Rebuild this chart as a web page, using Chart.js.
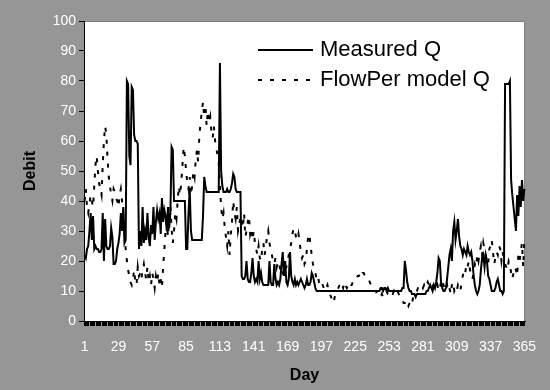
<!DOCTYPE html>
<html>
<head>
<meta charset="utf-8">
<script src="https://cdn.jsdelivr.net/npm/chart.js@4/dist/chart.umd.min.js"></script>
<style>
  html, body { margin: 0; padding: 0; background: #969696; }
  #wrap { width: 550px; height: 390px; }
</style>
</head>
<body>
<div id="wrap"><canvas id="c" width="550" height="390"></canvas></div>
<script>
const seriesNames = ["Measured Q", "FlowPer model Q"];
const days = Array.from({length: 365}, (_, i) => String(i + 1));
const yTicks = [0, 10, 20, 30, 40, 50, 60, 70, 80, 90, 100];

const measuredQ = [
  22, 21, 24, 25, 30, 36, 27, 35, 24, 25,
  24, 24, 23, 23, 24, 36, 20, 34, 25, 24,
  24, 25, 31, 28, 19, 19, 20, 24, 26, 29,
  36, 30, 38, 26, 27, 80, 79, 55, 52, 78,
  77, 62, 60, 60, 59, 24, 30, 25, 38, 26,
  30, 27, 36, 28, 25, 32, 29, 38, 27, 33,
  37, 34, 36, 29, 41, 33, 37, 35, 30, 38,
  31, 36, 58, 57, 40, 40, 40, 40, 40, 40,
  40, 40, 40, 40, 24, 24, 36, 44, 30, 27,
  27, 27, 27, 27, 27, 27, 27, 27, 35, 48,
  45, 43, 43, 43, 43, 43, 43, 43, 43, 43,
  43, 43, 86, 50, 45, 43, 43, 43, 44, 43,
  43, 44, 46, 49, 48, 44, 43, 43, 43, 43,
  15, 14, 14, 15, 20, 14, 13, 13, 16, 21,
  15, 13, 14, 13, 20, 14, 16, 13, 12, 12,
  12, 12, 12, 20, 13, 12, 12, 19, 14, 12,
  13, 12, 14, 19, 23, 15, 20, 13, 12, 14,
  23, 15, 13, 12, 14, 12, 13, 12, 13, 14,
  13, 12, 11, 12, 14, 12, 12, 13, 16, 15,
  13, 11, 10, 10, 10, 10, 10, 10, 10, 10,
  10, 10, 10, 10, 10, 10, 10, 10, 10, 10,
  10, 10, 10, 10, 10, 10, 10, 10, 10, 10,
  10, 10, 10, 10, 10, 10, 10, 10, 10, 10,
  10, 10, 10, 10, 10, 10, 10, 10, 10, 10,
  10, 10, 10, 10, 10, 11, 11, 10, 11, 11,
  10, 11, 10, 10, 10, 10, 10, 10, 10, 10,
  10, 10, 10, 11, 11, 20, 17, 13, 11, 10,
  10, 9, 9, 9, 8, 9, 9, 9, 9, 9,
  9, 9, 9, 10, 10, 11, 12, 11, 10, 12,
  11, 13, 16, 21, 20, 13, 11, 10, 10, 11,
  14, 18, 22, 24, 20, 30, 33, 27, 30, 34,
  28, 25, 24, 22, 24, 23, 22, 25, 23, 22,
  23, 20, 15, 12, 10, 9, 10, 12, 17, 21,
  22, 18, 22, 20, 15, 14, 12, 10, 10, 10,
  11, 13, 14, 12, 10, 10, 9, 10, 79, 79,
  79, 79, 80, 47, 42, 38, 34, 30, 42, 35,
  45, 38, 47, 40, 44
];

const flowPerQ = [
  40, 44, 38, 36, 39, 42, 40, 38, 45, 52,
  55, 50, 46, 44, 42, 52, 60, 65, 62, 54,
  48, 45, 42, 40, 44, 43, 41, 40, 38, 42,
  44, 40, 36, 30, 24, 20, 17, 15, 13, 12,
  14, 17, 13, 12, 18, 15, 16, 14, 17, 19,
  16, 14, 18, 13, 15, 12, 16, 14, 11, 15,
  13, 16, 12, 14, 11, 18, 24, 30, 33, 28,
  34, 38, 31, 26, 30, 36, 34, 40, 45, 42,
  46, 52, 58, 55, 50, 46, 44, 48, 42, 45,
  50, 48, 54, 57, 53, 62, 66, 70, 73, 68,
  72, 65, 70, 66, 68, 63, 61, 65, 60, 58,
  55, 53, 45, 38, 34, 36, 31, 28, 25, 30,
  22, 29, 33, 40, 36, 34, 38, 30, 32, 35,
  34, 31, 36, 28, 30, 33, 35, 29, 31, 27,
  30, 26, 24, 22, 25, 21, 20, 24, 26, 22,
  25, 28, 30, 26, 24, 22, 20, 19, 21, 18,
  20, 19, 17, 18, 16, 15, 17, 18, 20, 22,
  24, 26, 29, 31, 30, 28, 27, 29, 26, 23,
  21, 22, 19, 20, 24, 28, 29, 25, 22, 19,
  17, 16, 14, 15, 13, 12, 13, 12, 11, 12,
  11, 12, 10, 9, 8, 7, 6, 8, 9, 10,
  11, 12, 13, 12, 11, 13, 12, 11, 12, 13,
  12, 12, 13, 13, 14, 14, 15, 15, 16, 15,
  16, 16, 15, 15, 14, 14, 13, 12, 12, 11,
  10, 10, 9, 9, 8, 8, 9, 8, 9, 9,
  10, 9, 9, 10, 9, 9, 10, 9, 10, 10,
  9, 8, 8, 7, 6, 6, 7, 6, 5, 6,
  7, 6, 8, 9, 10, 10, 11, 11, 12, 12,
  11, 12, 11, 12, 13, 12, 13, 12, 12, 11,
  12, 11, 12, 10, 11, 13, 14, 12, 11, 10,
  12, 10, 11, 9, 12, 13, 10, 11, 10, 12,
  11, 10, 13, 15, 17, 16, 19, 18, 20, 17,
  15, 14, 16, 19, 18, 22, 20, 23, 25, 22,
  26, 24, 22, 20, 19, 24, 25, 27, 23, 19,
  21, 23, 22, 25, 24, 20, 23, 21, 19, 18,
  17, 20, 19, 16, 14, 16, 18, 17, 15, 22,
  20, 23, 26, 18, 27
];

const FONT = "'Liberation Sans', Arial, sans-serif";

const plotBg = {
  id: 'plotBg',
  beforeDraw(chart) {
    const {ctx, chartArea: a} = chart;
    ctx.save();
    ctx.fillStyle = '#ffffff';
    ctx.fillRect(a.left, a.top, a.right - a.left, a.bottom - a.top);
    ctx.strokeStyle = '#808080';
    ctx.lineWidth = 1;
    ctx.beginPath();
    ctx.moveTo(a.left, a.top + 0.5);
    ctx.lineTo(a.right - 0.5, a.top + 0.5);
    ctx.lineTo(a.right - 0.5, a.bottom);
    ctx.stroke();
    ctx.restore();
  }
};

const inLegend = {
  id: 'inLegend',
  afterDraw(chart) {
    const {ctx, chartArea: a} = chart;
    ctx.save();
    chart.data.datasets.forEach((ds, i) => {
      const y = a.top + 29 + i * 30;
      const x0 = a.left + 174;
      ctx.strokeStyle = '#000';
      ctx.lineWidth = 2;
      ctx.setLineDash(ds.borderDash || []);
      ctx.beginPath();
      ctx.moveTo(x0, y);
      ctx.lineTo(x0 + 55, y);
      ctx.stroke();
      ctx.setLineDash([]);
      ctx.fillStyle = '#000';
      ctx.font = '22px ' + FONT;
      ctx.textBaseline = 'middle';
      ctx.textAlign = 'left';
      ctx.fillText(ds.label, x0 + 62, y);
    });
    ctx.restore();
  }
};

new Chart(document.getElementById('c'), {
  type: 'line',
  data: {
    labels: days,
    datasets: [
      {
        label: seriesNames[0],
        data: measuredQ,
        borderColor: '#000',
        borderWidth: 2,
        pointRadius: 0,
        tension: 0,
        fill: false
      },
      {
        label: seriesNames[1],
        data: flowPerQ,
        borderColor: '#000',
        borderWidth: 2,
        borderDash: [4, 8],
        pointRadius: 0,
        tension: 0,
        fill: false
      }
    ]
  },
  options: {
    responsive: false,
    devicePixelRatio: 1,
    animation: false,
    layout: { padding: { left: 0, right: 25, top: 21, bottom: 0 } },
    plugins: {
      legend: { display: false },
      tooltip: { enabled: false }
    },
    scales: {
      x: {
        type: 'category',
        offset: true,
        border: { display: true, color: '#000', width: 1 },
        grid: {
          display: true,
          offset: true,
          drawOnChartArea: false,
          drawTicks: true,
          tickLength: 5,
          color: '#000',
          lineWidth: 1
        },
        ticks: {
          autoSkip: false,
          maxRotation: 0,
          minRotation: 0,
          padding: 13,
          color: '#ffffff',
          font: { family: FONT, size: 14 },
          callback: function(val, idx) { return idx % 28 === 0 ? days[idx] : ''; }
        },
        title: {
          display: true,
          text: 'Day',
          color: '#000',
          font: { family: FONT, size: 16, weight: 'bold' },
          padding: { top: 4, bottom: 5 }
        },
        afterFit(scale) { scale.height = 69; }
      },
      y: {
        min: 0,
        max: 100,
        border: { display: true, color: '#000', width: 1 },
        grid: {
          display: true,
          drawOnChartArea: false,
          drawTicks: true,
          tickLength: 5,
          color: '#000'
        },
        ticks: {
          stepSize: 10,
          padding: 3,
          color: '#ffffff',
          font: { family: FONT, size: 14 },
          callback: function(v) { return yTicks.includes(v) ? String(v) : ''; }
        },
        title: {
          display: true,
          text: 'Debit',
          color: '#000',
          font: { family: FONT, size: 16, weight: 'bold' },
          padding: { top: 21, bottom: 0 }
        },
        afterFit(scale) { scale.width = 84; }
      }
    }
  },
  plugins: [plotBg, inLegend]
});
</script>
</body>
</html>
